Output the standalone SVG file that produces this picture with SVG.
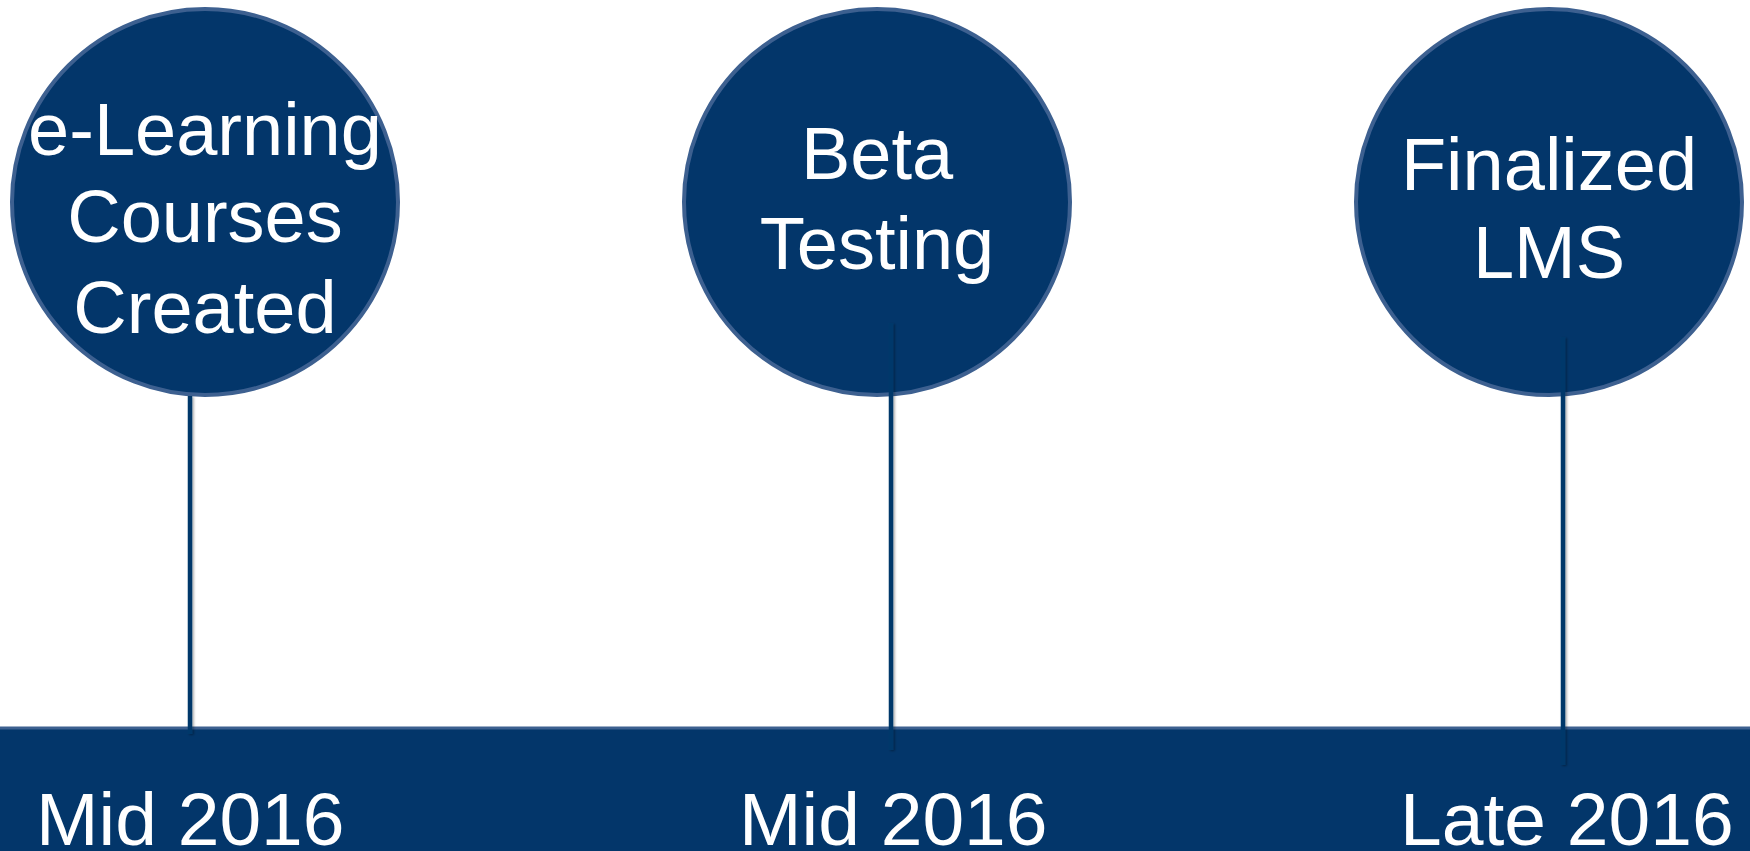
<svg xmlns="http://www.w3.org/2000/svg" width="1750" height="851" viewBox="0 0 1750 851">
<defs>
<style>
.node circle{fill:#03366a;stroke:#3d6090;stroke-width:4}
.lbl{font-family:"Liberation Sans",Arial,sans-serif;font-size:74px;fill:#ffffff;text-anchor:middle}
.date{font-family:"Liberation Sans",Arial,sans-serif;font-size:75px;fill:#ffffff}
.conn line{stroke:#06386b;stroke-width:4.5;filter:url(#sh)}
</style>
<filter id="sh" filterUnits="userSpaceOnUse" x="0" y="0" width="1750" height="851">
<feDropShadow dx="1.5" dy="1" stdDeviation="1" flood-color="#000000" flood-opacity="0.35"/>
</filter>
</defs>
<rect width="1750" height="851" fill="#ffffff"/>
<g id="bar">
<rect x="-5" y="728" width="1760" height="130" fill="#03366a" stroke="#3d6090" stroke-width="3"/>
</g>
<g id="node1" class="node">
<circle cx="205" cy="202" r="193"/>
<text class="lbl" x="205" y="155">e-Learning</text>
<text class="lbl" x="205" y="242">Courses</text>
<text class="lbl" x="205" y="333">Created</text>
</g>
<g id="node2" class="node">
<circle cx="877" cy="202" r="193"/>
<text class="lbl" x="877" y="179">Beta</text>
<text class="lbl" x="877" y="269">Testing</text>
</g>
<g id="node3" class="node">
<circle cx="1549" cy="202" r="193"/>
<text class="lbl" x="1549" y="190">Finalized</text>
<text class="lbl" x="1549" y="278">LMS</text>
</g>
<g id="connectors" class="conn">
<line x1="190" y1="396" x2="190" y2="734"/>
<line x1="891" y1="323" x2="891" y2="750"/>
<line x1="1563" y1="337" x2="1563" y2="765"/>
</g>
<g id="dates">
<text class="date" x="36" y="845">Mid 2016</text>
<text class="date" x="739" y="845">Mid 2016</text>
<text class="date" x="1400" y="845">Late 2016</text>
</g>
</svg>
